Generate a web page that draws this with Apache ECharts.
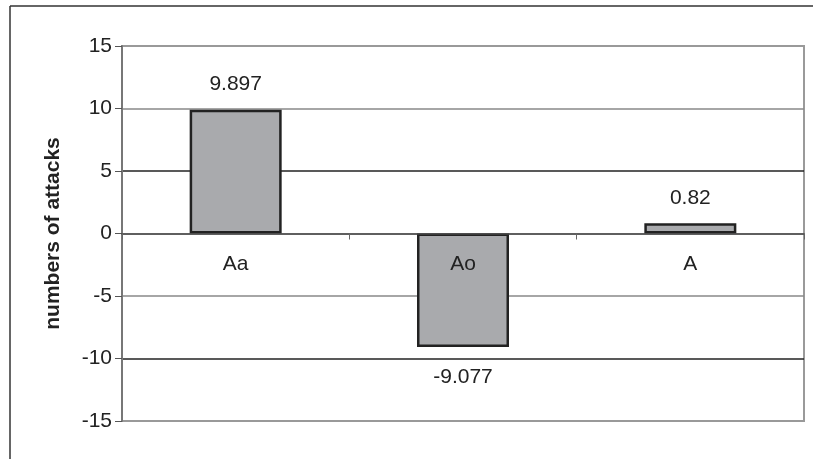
<!DOCTYPE html>
<html>
<head>
<meta charset="utf-8">
<script src="https://cdn.jsdelivr.net/npm/echarts@6/dist/echarts.min.js"></script>
<style>
html,body{margin:0;padding:0;background:#fff;}
#chart{width:813px;height:459px;}
</style>
</head>
<body>
<div id="chart"></div>
<script>
const categories = ['Aa', 'Ao', 'A'];
const values = [9.897, -9.077, 0.82];
const valueLabels = ['9.897', '-9.077', '0.82'];
const yMin = -15, yMax = 15, yStep = 5;
const yAxisTitle = 'numbers of attacks';

const chart = echarts.init(document.getElementById('chart'), null, {renderer: 'canvas'});
const font = '"Liberation Sans", Arial, sans-serif';

const gridTop = 46, gridBottom = 38, H = 459;
const plotH = H - gridTop - gridBottom;
const zeroOffset = -plotH * (0 - yMin) / (yMax - yMin);

const barData = values.map((v, i) => ({
  value: v,
  label: {
    position: v < 0 ? 'bottom' : 'top',
    distance: v < 0 ? 20 : 15,
    formatter: () => valueLabels[i]
  }
}));

chart.setOption({
  animation: false,
  backgroundColor: '#fff',
  textStyle: {fontFamily: font},
  grid: {left: 122, right: 9, top: gridTop, bottom: gridBottom, show: true, borderColor: '#9a9a9a', borderWidth: 2, backgroundColor: 'transparent'},
  graphic: [
    {type: 'line', shape: {x1: 10, y1: 6, x2: 813, y2: 6}, style: {stroke: '#333', lineWidth: 1.5}, silent: true},
    {type: 'line', shape: {x1: 10, y1: 6, x2: 10, y2: 459}, style: {stroke: '#333', lineWidth: 1.5}, silent: true}
  ],
  xAxis: {
    type: 'category',
    data: categories,
    position: 'bottom',
    offset: zeroOffset,
    z: 10,
    axisLine: {show: true, onZero: false, lineStyle: {color: '#444', width: 1.5}},
    axisTick: {show: true, inside: false, length: 6, lineStyle: {color: '#666', width: 1}},
    axisLabel: {color: '#222', fontSize: 21, fontFamily: font, margin: 20},
    splitLine: {show: false}
  },
  yAxis: {
    type: 'value',
    min: yMin, max: yMax, interval: yStep,
    name: yAxisTitle,
    nameLocation: 'middle',
    nameGap: 58,
    nameRotate: 90,
    nameTextStyle: {color: '#222', fontSize: 21, fontWeight: 'bold', fontFamily: font},
    axisLine: {show: true, lineStyle: {color: '#777', width: 2}},
    axisTick: {show: true, inside: false, length: 7, lineStyle: {color: '#555', width: 1}},
    axisLabel: {color: '#222', fontSize: 21, fontFamily: font, margin: 10},
    splitLine: {show: true, lineStyle: {color: ['#999', '#222', '#888'], width: 1.5}}
  },
  series: [{
    type: 'bar',
    data: barData,
    barWidth: 92,
    itemStyle: {color: '#a9aaad', borderColor: '#222', borderWidth: 2.5},
    label: {show: true, color: '#222', fontSize: 21, fontFamily: font}
  }]
});
</script>
</body>
</html>
